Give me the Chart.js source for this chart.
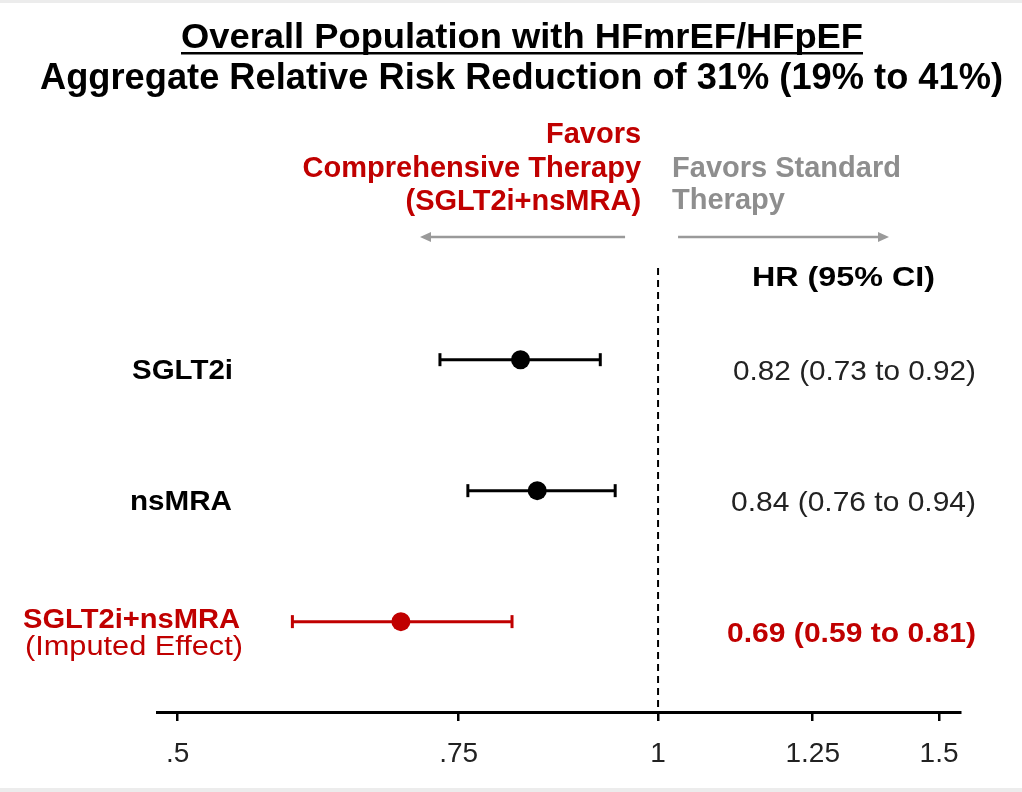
<!DOCTYPE html>
<html>
<head>
<meta charset="utf-8">
<script src="https://cdn.jsdelivr.net/npm/chart.js@4.4.1/dist/chart.umd.min.js"></script>
<style>
  html, body { margin: 0; padding: 0; background: #ffffff; }
  #wrap { width: 1022px; height: 792px; position: relative; }
</style>
</head>
<body>
<div id="wrap"><canvas id="c"></canvas></div>
<script>
// ---------------- data ----------------
const categories = ['SGLT2i', 'nsMRA', 'SGLT2i+nsMRA'];
const subLabels = ['', '', '(Imputed Effect)'];
const hrValues = [0.82, 0.84, 0.69];
const lowerCI = [0.73, 0.76, 0.59];
const upperCI = [0.92, 0.94, 0.81];
const tickValues = [0.5, 0.75, 1, 1.25, 1.5];
const tickLabels = ['.5', '.75', '1', '1.25', '1.5'];
const titleText = 'Overall Population with HFmrEF/HFpEF';
const subtitleText = 'Aggregate Relative Risk Reduction of 31% (19% to 41%)';
const favorsLeftLines = ['Favors', 'Comprehensive Therapy', '(SGLT2i+nsMRA)'];
const favorsRightLines = ['Favors Standard', 'Therapy'];
const hrHeader = 'HR (95% CI)';

// ---------------- styles ----------------
const RED = '#c00000';
const GREY = '#8e8e8e';
const FONT = '"Liberation Sans", Arial, Helvetica, sans-serif';
const rowColors = ['#000000', '#000000', RED];

function fitText(ctx, text, x, y, font, color, align, width) {
  ctx.save();
  ctx.font = font;
  ctx.fillStyle = color;
  ctx.textBaseline = 'alphabetic';
  ctx.textAlign = 'left';
  const w = ctx.measureText(text).width;
  const tw = width || w;
  const s = tw / w;
  let left = x - tw / 2;
  if (align === 'left') left = x;
  if (align === 'right') left = x - tw;
  ctx.translate(left, y);
  ctx.scale(s, 1);
  ctx.fillText(text, 0, 0);
  ctx.restore();
}

function arrow(ctx, x1, x2, y, color) {
  ctx.save();
  ctx.strokeStyle = color;
  ctx.fillStyle = color;
  ctx.lineWidth = 2.5;
  const dir = Math.sign(x2 - x1);
  ctx.beginPath();
  ctx.moveTo(x1, y);
  ctx.lineTo(x2 - dir * 8, y);
  ctx.stroke();
  ctx.beginPath();
  ctx.moveTo(x2, y);
  ctx.lineTo(x2 - dir * 11, y - 5);
  ctx.lineTo(x2 - dir * 11, y + 5);
  ctx.closePath();
  ctx.fill();
  ctx.restore();
}

// ---------------- datasets ----------------
const datasets = [];
categories.forEach((c, i) => {
  datasets.push({
    type: 'line',
    label: c + ' CI',
    data: [{x: lowerCI[i], y: i + 1}, {x: upperCI[i], y: i + 1}],
    borderColor: rowColors[i],
    borderWidth: 3,
    pointStyle: 'line',
    pointRotation: 90,
    pointRadius: 6.5,
    pointHoverRadius: 6.5,
    pointBorderWidth: 3,
    pointBorderColor: rowColors[i],
    fill: false,
    order: 2
  });
});
datasets.push({
  type: 'scatter',
  label: 'HR',
  data: categories.map((c, i) => ({x: hrValues[i], y: i + 1})),
  backgroundColor: rowColors,
  borderColor: rowColors,
  pointRadius: 9.5,
  pointHoverRadius: 9.5,
  borderWidth: 0,
  order: 1
});

const decorPlugin = {
  id: 'decor',
  beforeDraw(chart) {
    const ctx = chart.ctx;
    ctx.save();
    ctx.fillStyle = '#ffffff';
    ctx.fillRect(0, 0, chart.width, chart.height);
    ctx.fillStyle = '#ececec';
    ctx.fillRect(0, 0, chart.width, 3);
    ctx.fillRect(0, chart.height - 4, chart.width, 4);
    ctx.restore();
  },
  beforeDatasetsDraw(chart) {
    const ctx = chart.ctx;
    const xs = chart.scales.x;
    const a = chart.chartArea;
    const px = xs.getPixelForValue(1);
    ctx.save();
    ctx.strokeStyle = '#000';
    ctx.lineWidth = 2;
    ctx.setLineDash([7, 5]);
    ctx.beginPath();
    ctx.moveTo(px, a.top);
    ctx.lineTo(px, a.bottom);
    ctx.stroke();
    ctx.restore();
  },
  afterDraw(chart) {
    const ctx = chart.ctx;
    const xs = chart.scales.x;
    const ys = chart.scales.y;
    const x1 = xs.getPixelForValue(1);

    // title + subtitle
    fitText(ctx, titleText, 522, 48, 'bold 35px ' + FONT, '#000', 'center', 682);
    ctx.save();
    ctx.fillStyle = '#000';
    ctx.fillRect(181, 52, 682, 2.5);
    ctx.restore();
    fitText(ctx, subtitleText, 521.5, 89, 'bold 36px ' + FONT, '#000', 'center', 963);

    // favors labels
    const redY = [143, 177, 210];
    favorsLeftLines.forEach((t, i) => {
      fitText(ctx, t, x1 - 17, redY[i], 'bold 29px ' + FONT, RED, 'right');
    });
    const greyY = [177, 209];
    favorsRightLines.forEach((t, i) => {
      fitText(ctx, t, x1 + 14, greyY[i], 'bold 29px ' + FONT, GREY, 'left');
    });
    arrow(ctx, x1 - 33, 420, 237, '#9a9a9a');
    arrow(ctx, x1 + 20, 889, 237, '#9a9a9a');

    // HR header
    fitText(ctx, hrHeader, 843.5, 286, 'bold 27px ' + FONT, '#000', 'center', 183);

    // row labels + HR text
    const labelCx = [182.5, 181, 131.5];
    const labelW = [101, 102, 217];
    const hrW = [243, 245, 249];
    categories.forEach((c, i) => {
      const py = ys.getPixelForValue(i + 1);
      const bold = 'bold 28px ' + FONT;
      if (subLabels[i]) {
        fitText(ctx, c, labelCx[i], py + 6, bold, rowColors[i], 'center', labelW[i]);
        fitText(ctx, subLabels[i], 134, py + 33, '27px ' + FONT, rowColors[i], 'center', 218);
      } else {
        fitText(ctx, c, labelCx[i], py + 19, bold, rowColors[i], 'center', labelW[i]);
      }
      const txt = hrValues[i].toFixed(2) + ' (' + lowerCI[i].toFixed(2) + ' to ' + upperCI[i].toFixed(2) + ')';
      const f = (i === 2 ? 'bold ' : '') + '28px ' + FONT;
      fitText(ctx, txt, 976, py + 20, f, i === 2 ? RED : '#222', 'right', hrW[i]);
    });
  }
};

const xMin = 0.4853, xMax = 1.546;

new Chart(document.getElementById('c'), {
  data: { datasets },
  options: {
    responsive: true,
    maintainAspectRatio: false,
    animation: false,
    events: [],
    layout: { padding: { left: 157, right: 62, top: 268, bottom: 0 } },
    plugins: { legend: { display: false }, tooltip: { enabled: false }, title: { display: false } },
    scales: {
      x: {
        type: 'logarithmic',
        position: 'bottom',
        min: xMin,
        max: xMax,
        afterBuildTicks: (axis) => { axis.ticks = tickValues.map(v => ({ value: v })); },
        afterFit: (axis) => { axis.height = 80; },
        border: { display: true, color: '#000', width: 3 },
        grid: { display: true, drawOnChartArea: false, drawTicks: true, tickLength: 9, color: '#000', lineWidth: 2.5 },
        ticks: {
          autoSkip: false, maxRotation: 0, minRotation: 0, padding: 16, color: '#222',
          font: { family: FONT, size: 28 },
          callback: (v) => { const k = tickValues.findIndex(t => Math.abs(t - v) < 1e-9); return k >= 0 ? tickLabels[k] : ''; }
        }
      },
      y: {
        type: 'linear',
        display: false,
        reverse: true,
        min: 0.3,
        max: 3.69
      }
    }
  },
  plugins: [decorPlugin]
});
</script>
</body>
</html>
